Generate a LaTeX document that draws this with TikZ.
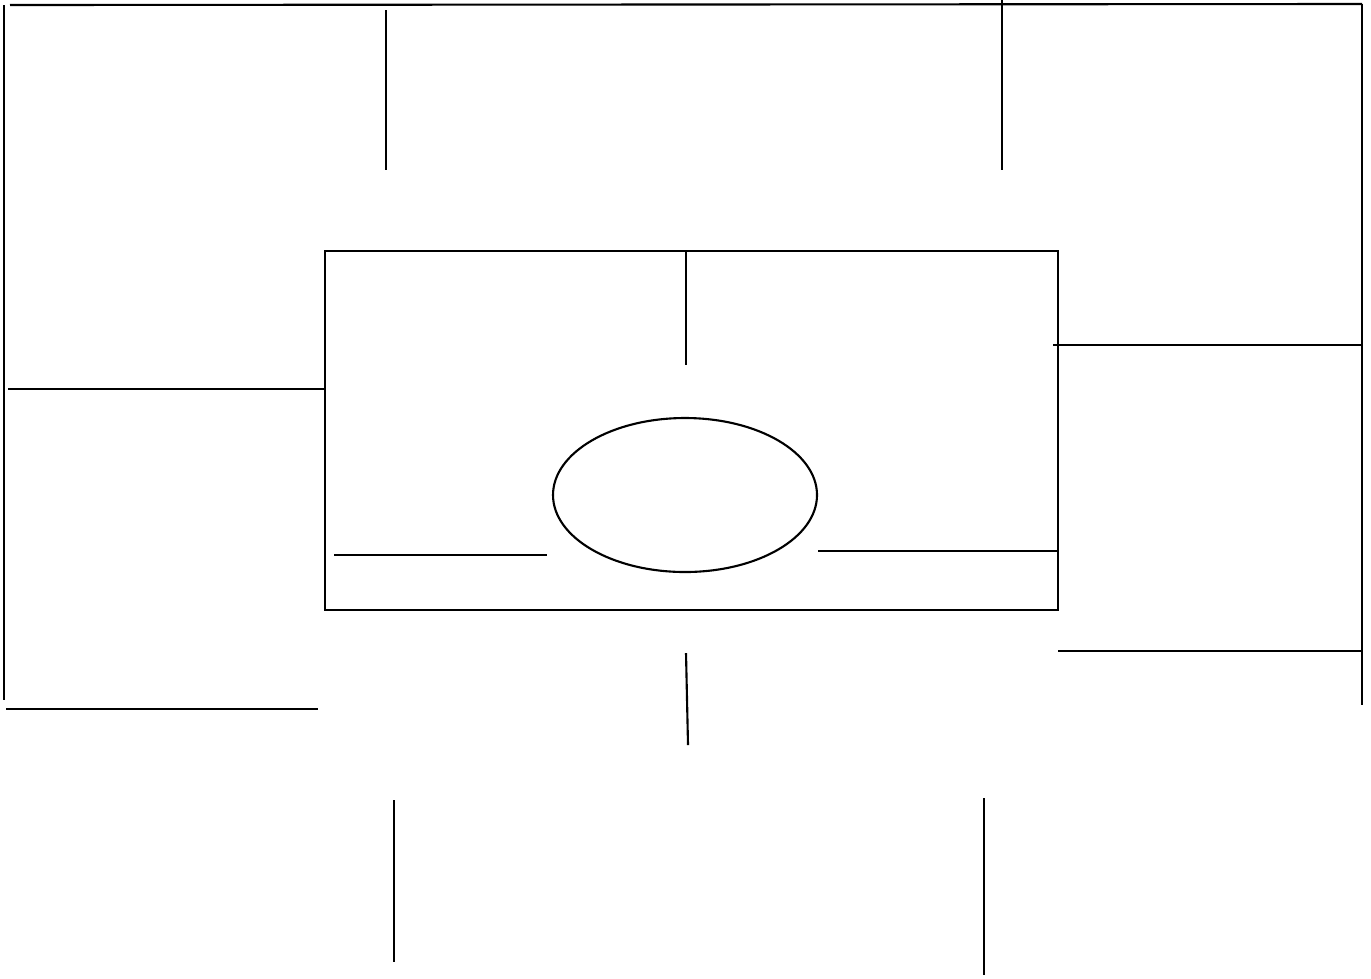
\documentclass[tikz,border=0pt]{standalone}
\usepackage{tikz}
\tikzset{
  rule/.style={draw=black,line width=0.6pt},
}
\begin{document}
\begin{tikzpicture}[x=0.01cm,y=-0.01cm]
  \useasboundingbox (0,0) rectangle (1371,978);
  % outer frame pieces
  \draw[rule] (10,5) -- (1362,4);
  \draw[rule] (4,5) -- (4,700);
  \draw[rule] (1362,4) -- (1362,705);
  \draw[rule] (386,10) -- (386,170);
  \draw[rule] (1002,0) -- (1002,170);
  % central box and ellipse
  \draw[rule] (325,251) rectangle (1058,610);
  \draw[rule] (686,251) -- (686,365);
  \draw[rule] (685,495) ellipse [x radius=132,y radius=77];
  \draw[rule] (334,555) -- (547,555);
  \draw[rule] (818,551) -- (1058,551);
  % side rules
  \draw[rule] (8,389) -- (325,389);
  \draw[rule] (1053,345) -- (1362,345);
  \draw[rule] (1058,651) -- (1362,651);
  \draw[rule] (6,709) -- (318,709);
  % bottom
  \draw[rule] (686,653) -- (688,745);
  \draw[rule] (394,800) -- (394,962);
  \draw[rule] (984,798) -- (984,975);
\end{tikzpicture}
\end{document}
